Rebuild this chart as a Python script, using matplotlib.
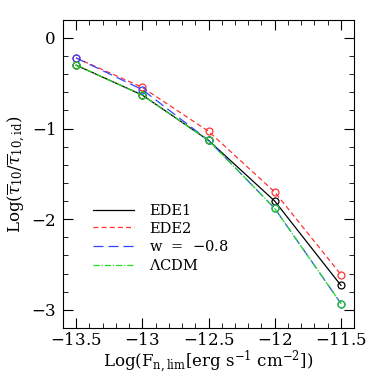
import matplotlib
matplotlib.use('Agg')
import matplotlib.pyplot as plt
from matplotlib.ticker import MultipleLocator

plt.rcParams['font.family'] = 'DejaVu Serif'
plt.rcParams['mathtext.fontset'] = 'dejavuserif'

# Data
logF = [-13.5, -13.0, -12.5, -12.0, -11.5]
ede1 = [-0.30, -0.63, -1.13, -1.80, -2.73]
ede2 = [-0.22, -0.545, -1.03, -1.70, -2.61]
w08 = [-0.22, -0.57, -1.13, -1.88, -2.93]
lcdm = [-0.30, -0.63, -1.13, -1.88, -2.93]

fig = plt.figure(figsize=(3.74, 3.74), dpi=100)
ax = fig.add_axes([0.168, 0.123, 0.779, 0.824])

ax.plot(logF, ede1, color='black', ls='-', lw=0.9, label='EDE1')
ax.plot(logF, ede2, color='#ff3333', ls=(0, (4, 2.5)), lw=0.9, label='EDE2')
ax.plot(logF, w08, color='#3344ff', ls=(0, (8, 4)), lw=0.9, label='w  =  $-$0.8')
ax.plot(logF, lcdm, color='#22dd22', ls=(0, (5, 1.5, 1, 1.5)), lw=0.9, label=r'$\Lambda$CDM')

for y, c in [(ede1, 'black'), (ede2, '#ff3333'), (w08, '#3344ff'), (lcdm, '#22cc22')]:
    ax.plot(logF, y, 'o', mfc='none', mec=c, ms=5, mew=0.9)

ax.set_xlim(-13.6, -11.4)
ax.set_ylim(-3.2, 0.2)
ax.xaxis.set_minor_locator(MultipleLocator(0.1))
ax.yaxis.set_minor_locator(MultipleLocator(0.2))
ax.set_xticks([-13.5, -13, -12.5, -12, -11.5])
ax.set_xticklabels(['$-$13.5', '$-$13', '$-$12.5', '$-$12', '$-$11.5'])
ax.set_yticks([0, -1, -2, -3])
ax.set_yticklabels(['0', '$-$1', '$-$2', '$-$3'])
ax.tick_params(which='both', direction='in', top=True, right=True, labelsize=12)
ax.tick_params(which='major', length=7)
ax.tick_params(which='minor', length=3.5)
ax.tick_params(axis='x', pad=3)
ax.tick_params(axis='y', pad=5)

ax.set_xlabel(r'Log(F$_{\rm n,lim}$[erg s$^{-1}$ cm$^{-2}$])', fontsize=12, labelpad=0)
ax.set_ylabel(r'Log($\overline{\tau}_{10}/\overline{\tau}_{10,\rm id}$)', fontsize=12, labelpad=2)

ax.legend(loc='lower left', bbox_to_anchor=(0.085, 0.16), frameon=False,
          fontsize=10.5, handlelength=2.8, handletextpad=1.0, labelspacing=0.25,
          borderaxespad=0)

fig.savefig('out.png', dpi=100)
